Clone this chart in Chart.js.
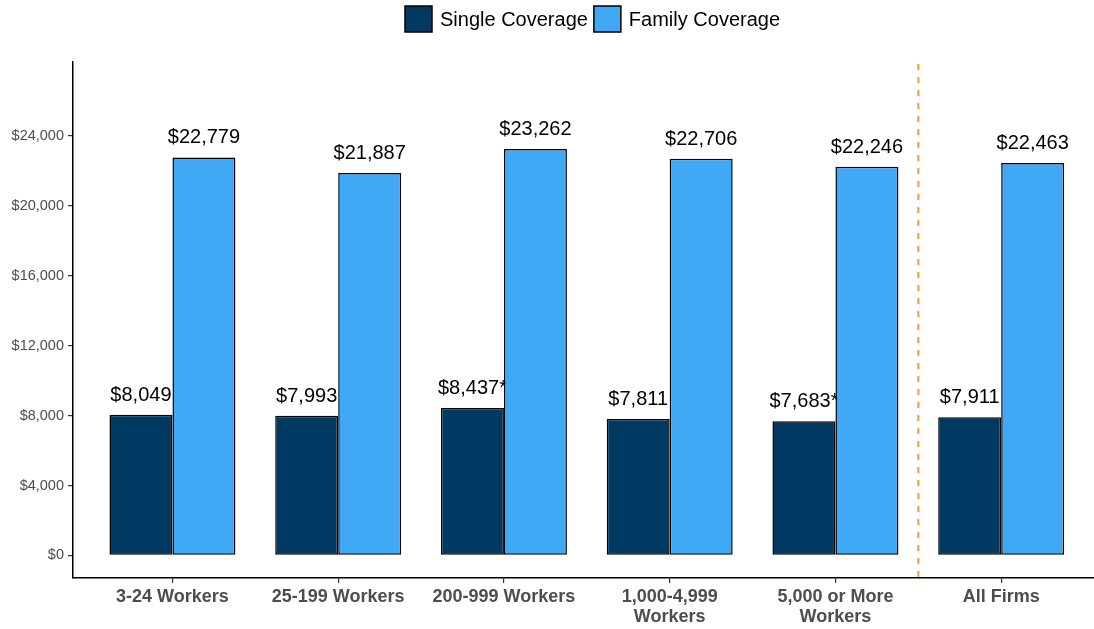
<!DOCTYPE html>
<html>
<head>
<meta charset="utf-8">
<script src="https://cdn.jsdelivr.net/npm/chart.js@4/dist/chart.umd.min.js"></script>
<style>
html,body{margin:0;padding:0;background:#fff;}
#wrap{width:1094px;height:629px;}
</style>
</head>
<body>
<div id="wrap"><canvas id="c" width="1094" height="629"></canvas></div>
<script>
const categories = [["3-24 Workers"], ["25-199 Workers"], ["200-999 Workers"], ["1,000-4,999", "Workers"], ["5,000 or More", "Workers"], ["All Firms"]];
const singleValues = [8049, 7993, 8437, 7811, 7683, 7911];
const familyValues = [22779, 21887, 23262, 22706, 22246, 22463];
const singleFlags = ["", "", "*", "", "*", ""];
const familyFlags = ["", "", "", "", "", ""];
const yTicks = [0, 4000, 8000, 12000, 16000, 20000, 24000];
const seriesNames = ["Single Coverage", "Family Coverage"];

const SINGLE_COLOR = "#003a63";
const FAMILY_COLOR = "#3fa9f5";
const FONT = "'Liberation Sans', Arial, sans-serif";

const fmt = v => "$" + v.toLocaleString("en-US");
const positions = categories.map((c, i) => i + 1);

function drawLabels(chart, idx) {
  const ctx = chart.ctx;
  const vals = idx === 0 ? singleValues : familyValues;
  const flags = idx === 0 ? singleFlags : familyFlags;
  const meta = chart.getDatasetMeta(idx);
  ctx.save();
  ctx.font = "20px " + FONT;
  ctx.fillStyle = "#000";
  ctx.textAlign = "center";
  ctx.textBaseline = "alphabetic";
  meta.data.forEach((bar, i) => {
    ctx.fillText(fmt(vals[i]) + flags[i], bar.x, bar.y - 14);
  });
  ctx.restore();
}

const labelPlugin = {
  id: "barLabels",
  beforeDatasetsDraw(chart) {
    // dashed divider
    const ctx = chart.ctx;
    const x = chart.scales.x.getPixelForValue(5.5);
    const a = chart.chartArea;
    ctx.save();
    ctx.strokeStyle = "#ff9a33";
    ctx.lineWidth = 2;
    ctx.setLineDash([6, 7]);
    ctx.beginPath();
    ctx.moveTo(x, a.top + 2);
    ctx.lineTo(x, a.bottom);
    ctx.stroke();
    ctx.restore();
    // single labels sit beneath the family bars
    drawLabels(chart, 0);
  },
  afterDatasetsDraw(chart) {
    drawLabels(chart, 1);
  }
};

const legendPlugin = {
  id: "customLegend",
  afterDraw(chart) {
    const ctx = chart.ctx;
    ctx.save();
    ctx.font = "20px " + FONT;
    ctx.textBaseline = "middle";
    ctx.textAlign = "left";
    const colors = [SINGLE_COLOR, FAMILY_COLOR];
    let x = 405;
    seriesNames.forEach((name, i) => {
      ctx.fillStyle = colors[i];
      ctx.fillRect(x, 6, 27, 26);
      ctx.strokeStyle = "#000";
      ctx.lineWidth = 1.5;
      ctx.strokeRect(x, 6, 27, 26);
      ctx.fillStyle = "#000";
      ctx.fillText(name, x + 35, 20);
      x += 35 + ctx.measureText(name).width + 6;
    });
    ctx.restore();
  }
};

new Chart(document.getElementById("c"), {
  type: "bar",
  data: {
    datasets: [
      {
        label: seriesNames[0],
        data: positions.map((p, i) => ({x: p, y: singleValues[i]})),
        backgroundColor: SINGLE_COLOR,
        borderColor: "#000",
        borderWidth: 1.5,
        borderSkipped: false
      },
      {
        label: seriesNames[1],
        data: positions.map((p, i) => ({x: p, y: familyValues[i]})),
        backgroundColor: FAMILY_COLOR,
        borderColor: "#000",
        borderWidth: 1.5,
        borderSkipped: false
      }
    ]
  },
  options: {
    responsive: false,
    animation: false,
    categoryPercentage: 0.76,
    barPercentage: 1,
    layout: {padding: {top: 62, left: 0, right: 0, bottom: 0}},
    plugins: {legend: {display: false}, tooltip: {enabled: false}},
    scales: {
      x: {
        type: "linear",
        min: 0.4,
        max: 6.56,
        offset: false,
        grid: {offset: false, drawOnChartArea: false, drawTicks: true, tickLength: 5, color: "#333", lineWidth: 1.2},
        border: {display: true, color: "#000", width: 1.5},
        afterBuildTicks(scale) { scale.ticks = positions.map(v => ({value: v})); },
        afterFit(scale) { scale.height = 51; },
        ticks: {
          autoSkip: false,
          maxRotation: 0,
          padding: 4,
          color: "#4d4d4d",
          font: {family: FONT, size: 18, weight: "bold", lineHeight: 1.1},
          callback: (v) => categories[Math.round(v) - 1]
        }
      },
      y: {
        min: -1290,
        max: 28240,
        grid: {drawOnChartArea: false, drawTicks: true, tickLength: 5, color: "#333", lineWidth: 1.2},
        border: {display: true, color: "#000", width: 1.5},
        afterBuildTicks(scale) { scale.ticks = yTicks.map(v => ({value: v})); },
        afterFit(scale) { scale.width = 73; },
        ticks: {
          padding: 4,
          color: "#4d4d4d",
          font: {family: FONT, size: 14.5},
          callback: (v) => fmt(v)
        }
      }
    }
  },
  plugins: [labelPlugin, legendPlugin]
});
</script>
</body>
</html>
